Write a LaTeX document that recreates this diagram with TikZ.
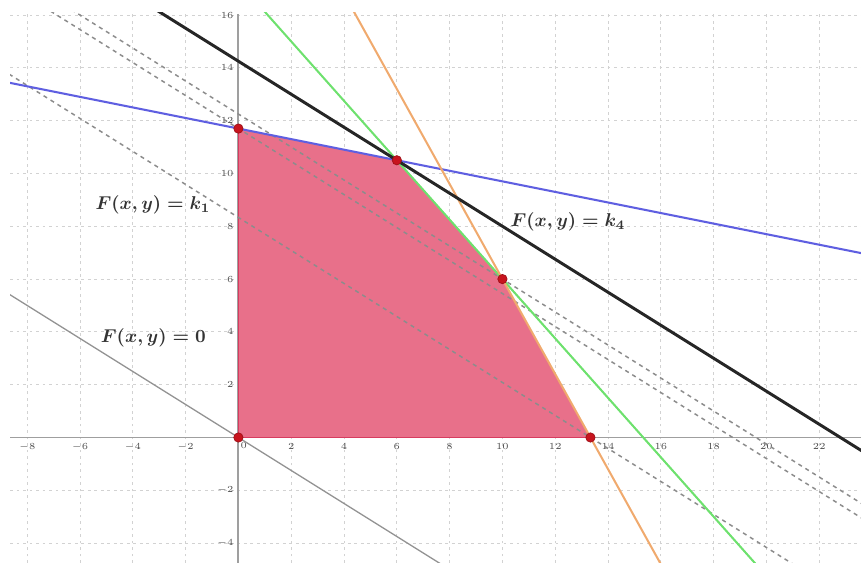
\documentclass[tikz,border=0pt]{standalone}
\usepackage{tikz}
\usepackage{xcolor}
\usepackage{amsmath}

\definecolor{regionred}{RGB}{232,112,138}
\definecolor{edgered}{RGB}{215,60,95}
\definecolor{dotred}{RGB}{200,20,30}
\definecolor{lineblue}{RGB}{95,95,225}
\definecolor{linegreen}{RGB}{110,225,110}
\definecolor{lineorange}{RGB}{240,170,110}

\begin{document}
\begin{tikzpicture}[
    x=0.5cm, y=0.5cm,
    gridline/.style={gray!35, line width=0.5pt, dash pattern=on 1.5pt off 2pt},
    axis/.style={gray!75, line width=1pt},
    ticklabel/.style={font=\tiny, text=gray!60!black, inner sep=1pt},
    level/.style={gray!90, line width=0.8pt, dash pattern=on 2.2pt off 2.2pt},
    bound/.style={line width=1.1pt},
    vertex/.style={circle, fill=dotred, draw=dotred!80!black, inner sep=0pt, minimum size=5pt},
    lbl/.style={font=\boldmath, text=black!80}
]
\useasboundingbox (-9.03,-4.75) rectangle (23.58,16.57);

% Grid
\foreach \x in {-8,-6,...,22}
    \draw[gridline] (\x,-4.75) -- (\x,16.05);
\foreach \y in {-4,-2,...,16}
    \draw[gridline] (-8.65,\y) -- (23.58,\y);

% Axes
\draw[axis] (-8.65,0) -- (23.58,0);
\draw[axis] (0,-4.75) -- (0,16.05);
\foreach \x in {-8,-6,-4,-2,2,4,...,22}
    \node[ticklabel, below] at (\x,-0.15) {$\x$};
\foreach \y in {-4,-2,2,4,...,16}
    \node[ticklabel, left] at (-0.1,\y) {$\y$};
\node[ticklabel, below right] at (0,-0.1) {$0$};

% Vertices
\coordinate (O) at (0,0);
\coordinate (B) at (0,11.7);
\coordinate (C) at (6,10.5);
\coordinate (D) at (10,6);
\coordinate (E) at (13.333,0);

% Feasible region
\fill[regionred] (O) -- (B) -- (C) -- (D) -- (E) -- cycle;
\draw[edgered, line width=0.8pt] (E) -- (O) -- (B);

\begin{scope}
\clip (-8.65,-4.75) rectangle (23.58,16.1);
% Level lines 5x+8y=k
\draw[gray!85, line width=0.7pt] (-10,6.25) -- (10,-6.25);
\foreach \k in {66.667,93.6,98}
    \draw[level] (-10,{(\k+50)/8}) -- (25,{(\k-125)/8});
% Constraints
\draw[bound, lineblue] (-10,13.7) -- (25,6.7);
\draw[bound, linegreen] (0.222,17) -- (19.778,-5);
\draw[bound, lineorange] (3.889,17) -- (16.111,-5);
% Optimum
\draw[black!85, line width=1.6pt] (-10,{(114+50)/8}) -- (25,{(114-125)/8});
\end{scope}

\foreach \v in {O,B,C,D,E}
    \node[vertex] (p\v) at (\v) {};

% Labels
\node[lbl] (levelone) at (-3.24,8.81) {$F(x,y)=k_1$};
\node[lbl] (levelzero) at (-3.22,3.77) {$F(x,y)=0$};
\node[lbl] (levelfour) at (12.48,8.16) {$F(x,y)=k_4$};
\end{tikzpicture}
\end{document}
